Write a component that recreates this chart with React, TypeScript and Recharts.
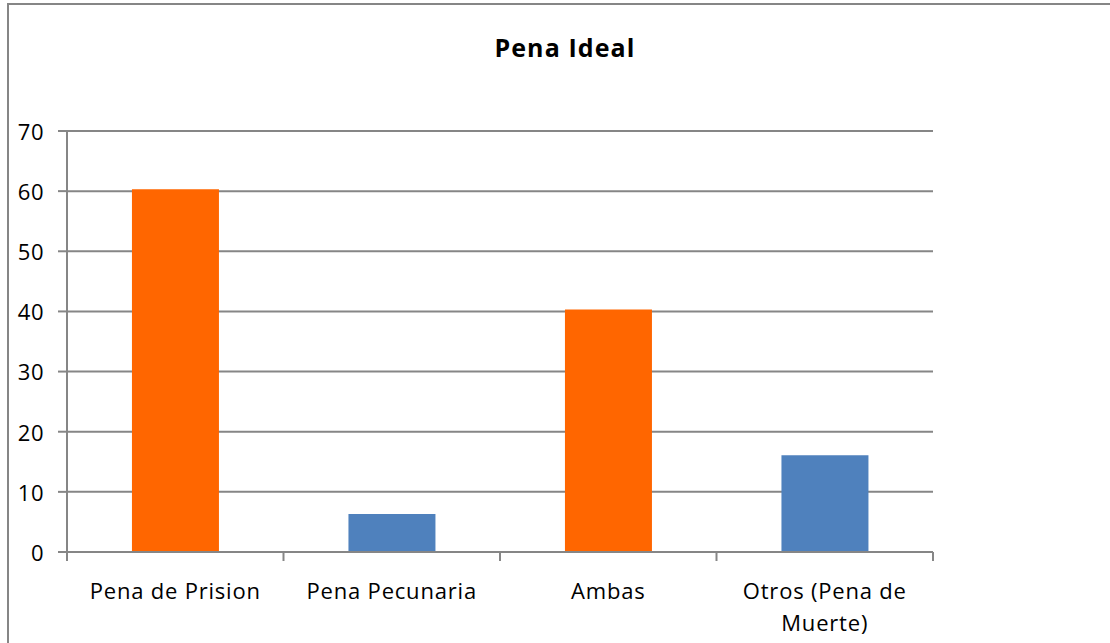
import { BarChart, Bar, XAxis, YAxis, CartesianGrid, Cell } from "recharts"

const categories = ["Pena de Prision", "Pena Pecunaria", "Ambas", "Otros (Pena de Muerte)"]
const values = [60.3, 6.3, 40.3, 16.1]
const yTicks = [0, 10, 20, 30, 40, 50, 60, 70]
const barColors = ["#FF6600", "#4F81BD", "#FF6600", "#4F81BD"]

const data = categories.map((name, i) => ({ name, value: values[i] }))

const FONT = "'Open Sans', 'Liberation Sans', sans-serif"
const GRAY = "#868686"

// greedy word wrap, like the label wrapping in the original
function wrap(label: string, maxChars = 16) {
  const lines: string[] = []
  let cur = ""
  for (const w of label.split(" ")) {
    const next = cur ? cur + " " + w : w
    if (next.length > maxChars && cur) { lines.push(cur); cur = w } else cur = next
  }
  if (cur) lines.push(cur)
  return lines
}

function CatTick(props: any) {
  const { x, y, payload, index, visibleTicksCount } = props
  const half = payload.offset ?? 108
  const last = index === (visibleTicksCount ?? categories.length) - 1
  return (
    <g>
      <line x1={x - half} x2={x - half} y1={y} y2={y + 9} stroke={GRAY} strokeWidth={2} />
      {last && <line x1={x + half} x2={x + half} y1={y} y2={y + 9} stroke={GRAY} strokeWidth={2} />}
      <text x={x} y={y + 47} textAnchor="middle" fontFamily={FONT} fontSize={22} letterSpacing={0.8} fill="#000">
        {wrap(payload.value).map((ln, i) => (
          <tspan key={i} x={x} dy={i === 0 ? 0 : 32}>{ln}</tspan>
        ))}
      </text>
    </g>
  )
}

export default function App() {
  return (
    <div style={{ position: "absolute", left: 0, top: 0, width: 1110, height: 643, background: "#fff", overflow: "hidden" }}>
      <div style={{ position: "absolute", left: 7, top: 3, width: 1103, height: 640, borderTop: `2px solid ${GRAY}`, borderLeft: `2px solid ${GRAY}` }} />
      <div style={{ position: "absolute", left: 0, width: 1130, top: 30, textAlign: "center", fontFamily: FONT, fontWeight: 700, fontSize: 25, letterSpacing: 1.1, color: "#000" }}>
        Pena Ideal
      </div>
      <div style={{ position: "absolute", left: 0, top: 0 }}>
        <BarChart width={1110} height={643} data={data} barCategoryGap="30%"
          margin={{ top: 131, right: 177, left: 0, bottom: 0 }}>
          <CartesianGrid vertical={false} stroke={GRAY} strokeWidth={2} />
          <XAxis dataKey="name" height={91} interval={0} tickLine={false} tickSize={0} tickMargin={0}
            axisLine={{ stroke: GRAY, strokeWidth: 2 }} tick={<CatTick />} />
          <YAxis width={67} domain={[0, 70]} ticks={yTicks} interval={0}
            axisLine={{ stroke: GRAY, strokeWidth: 2 }} tickLine={{ stroke: GRAY, strokeWidth: 2 }}
            tickSize={9} tickMargin={14}
            tick={{ fontFamily: FONT, fontSize: 22, letterSpacing: 0.5, fill: "#000", dy: 1 }} />
          <Bar dataKey="value" isAnimationActive={false}>
            {data.map((d, i) => <Cell key={d.name} fill={barColors[i]} />)}
          </Bar>
        </BarChart>
      </div>
    </div>
  )
}
